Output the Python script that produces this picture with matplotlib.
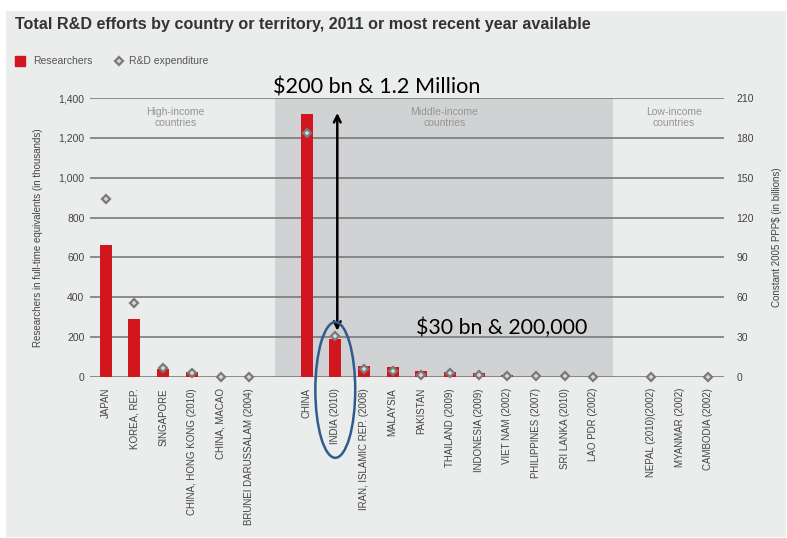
import numpy as np
import matplotlib.pyplot as plt
from matplotlib.patches import Rectangle, Ellipse
from matplotlib.lines import Line2D

# =========================
# DATA
# =========================
high_countries = ["JAPAN", "KOREA, REP.", "SINGAPORE", "CHINA, HONG KONG (2010)",
                  "CHINA, MACAO", "BRUNEI DARUSSALAM (2004)"]
high_researchers = [660, 292, 40, 25, 2, 0]
high_spending = [134, 56, 7, 3, 0.3, 0.1]

middle_countries = ["CHINA", "INDIA (2010)", "IRAN, ISLAMIC REP. (2008)", "MALAYSIA",
                    "PAKISTAN", "THAILAND (2009)", "INDONESIA (2009)", "VIET NAM (2002)",
                    "PHILIPPINES (2007)", "SRI LANKA (2010)", "LAO PDR (2002)"]
middle_researchers = [1320, 192, 55, 48, 30, 24, 22, 10, 0, 0, 0]
middle_spending = [184, 31, 6, 4.5, 1.8, 3, 1.5, 0.7, 0.6, 0.4, 0.2]

low_countries = ["NEPAL (2010)(2002)", "MYANMAR (2002)", "CAMBODIA (2002)"]
low_researchers = [0, 0, 0]
low_spending = [0.3, np.nan, 0.2]

left_ticks = [0, 200, 400, 600, 800, 1000, 1200, 1400]
right_ticks = [0, 30, 60, 90, 120, 150, 180, 210]

# positions with one empty slot between groups
pos_high = np.arange(0, 6)
pos_middle = np.arange(7, 18)
pos_low = np.arange(19, 22)
positions = np.concatenate([pos_high, pos_middle, pos_low])
countries = high_countries + middle_countries + low_countries
researchers = high_researchers + middle_researchers + low_researchers
spending = high_spending + middle_spending + low_spending

red = "#d2161f"
grid_col = "#7a7a7a"
txt_col = "#444444"
plt.rcParams['font.family'] = ['Liberation Sans', 'DejaVu Sans']

# =========================
# FIGURE
# =========================
W, H = 787, 538
fig = plt.figure(figsize=(W / 100, H / 100), dpi=100, facecolor="white")
fig.add_artist(Rectangle((6 / W, 1 - 537 / H), 780 / W, 526 / H,
                         transform=fig.transFigure, facecolor="#ebecec",
                         edgecolor="none", zorder=-10))

ax = fig.add_axes([90 / W, 1 - 377 / H, (724 - 90) / W, (377 - 98) / H])
ax.set_facecolor("none")
ax.set_xlim(-0.55, 21.55)
ax.set_ylim(0, 1400)

# middle-income shading
ax.axvspan(5.9, 17.67, color="#d1d2d3", zorder=0, lw=0)

for t in left_ticks:
    ax.axhline(t, color=grid_col, lw=1.2, zorder=1)

ax.bar(positions, researchers, width=0.42, color=red, zorder=3)

ax.set_yticks(left_ticks)
ax.set_yticklabels([f"{t:,}" for t in left_ticks], fontsize=7.5, color=txt_col)
ax.set_xticks(positions)
ax.set_xticklabels(countries, rotation=90, fontsize=7, color=txt_col, va="top")
ax.tick_params(axis="both", length=0)
ax.tick_params(axis="x", pad=8)
ax.tick_params(axis="y", pad=4)
for s in ax.spines.values():
    s.set_visible(False)
ax.set_ylabel("Researchers in full-time equivalents (in thousands)",
              fontsize=7, color=txt_col, labelpad=11)

ax2 = ax.twinx()
ax2.set_ylim(0, 210)
ax2.set_yticks(right_ticks)
ax2.set_yticklabels([str(t) for t in right_ticks], fontsize=7.5, color=txt_col)
ax2.tick_params(axis="y", length=0, pad=9)
for s in ax2.spines.values():
    s.set_visible(False)
ax2.set_ylabel("Constant 2005 PPP$ (in billions)", fontsize=7, color=txt_col,
               labelpad=13)
ax2.plot(positions, spending, linestyle="none", marker="D", markersize=4.5,
         markerfacecolor="#d8d8d8", markeredgecolor="#7a7a7a", mew=1.6,
         zorder=4, clip_on=False)

# group labels
for x, lab in [(2.43, "High-income\ncountries"), (11.8, "Middle-income\ncountries"),
               (19.8, "Low-income\ncountries")]:
    ax.text(x, 1355, lab, ha="center", va="top", fontsize=7.5, color="#959595",
            linespacing=1.1, zorder=5)

# =========================
# TITLE & LEGEND
# =========================
fig.text(15 / W, 1 - 25 / H,
         "Total R&D efforts by country or territory, 2011 or most recent year available",
         fontsize=11.6, fontweight="bold", color="#333333", va="center")
fig.add_artist(Line2D([20 / W], [1 - 61 / H], marker="s", markersize=7, color=red,
                      linestyle="none", transform=fig.transFigure))
fig.text(33 / W, 1 - 61 / H, "Researchers", fontsize=7.5, color="#555555", va="center")
fig.add_artist(Line2D([119 / W], [1 - 61 / H], marker="D", markersize=4.5,
                      markerfacecolor="#d8d8d8", markeredgecolor="#7a7a7a", mew=1.6,
                      linestyle="none", transform=fig.transFigure))
fig.text(129 / W, 1 - 61 / H, "R&D expenditure", fontsize=7.5, color="#555555",
         va="center")

# =========================
# ANNOTATIONS
# =========================
fig.text(273 / W, 1 - 88 / H, "$200 bn & 1.2 Million", fontsize=15.6,
         family=["Lato", "DejaVu Sans"], color="black", va="center")
fig.text(416 / W, 1 - 328 / H, "$30 bn & 200,000", fontsize=15.3,
         family=["Lato", "DejaVu Sans"], color="black", va="center")
ax.annotate("", xy=(8.07, 1325), xytext=(8.07, 232),
            arrowprops=dict(arrowstyle="<->", color="black", lw=1.8,
                            mutation_scale=12, shrinkA=0, shrinkB=0), zorder=6)
ax.add_patch(Ellipse((8.0, -65), 1.39, 681, fill=False, edgecolor="#2f5b8f",
                     lw=1.8, clip_on=False, zorder=6))

fig.savefig("out.png", dpi=100, facecolor="white")
